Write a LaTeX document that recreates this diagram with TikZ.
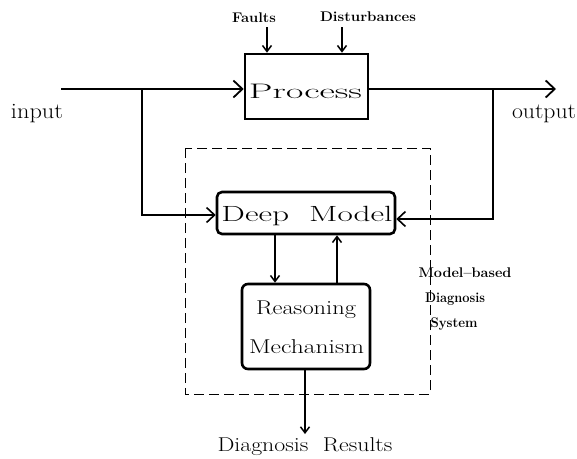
\documentclass[tikz,border=0pt]{standalone}
\usetikzlibrary{arrows.meta}
% stretch a label to a given width, keeping its height
\newcommand{\fitw}[2]{\resizebox{#1}{\height}{#2}}
\newcommand{\fs}[1]{\fontsize{#1}{#1}\selectfont}
\begin{document}
\begin{tikzpicture}[x=1pt,y=-1pt,
  thickbox/.style={draw,line width=2.6pt,inner sep=0pt},
  bigtip/.style={-{Straight Barb[length=9pt,width=17pt,line width=1.8pt]}},
  smalltip/.style={-{Straight Barb[length=6pt,width=9pt,line width=1.5pt]}},
  midtip/.style={-{Straight Barb[length=8pt,width=15pt,line width=1.6pt]}},
  lbl/.style={inner sep=0pt,anchor=center},
]
\useasboundingbox (0,0) rectangle (577,458);

% main blocks
\node[thickbox,minimum width=123pt,minimum height=65pt] (proc) at (306.5,86.5) {};
\node[lbl] (proct) at (305.5,91) {\fs{21}\fitw{113pt}{Process}};
\node[thickbox,rounded corners=5pt,minimum width=178pt,minimum height=42pt] (deep) at (306,213) {};
\node[lbl] (deept) at (307,216) {\fs{22}\fitw{171pt}{Deep\ \ Model}};
\node[thickbox,rounded corners=6pt,minimum width=128pt,minimum height=85pt] (reas) at (306,326.5) {};
\node[lbl] (reas1) at (306,310) {\fs{20}\fitw{100pt}{Reasoning}};
\node[lbl] (reas2) at (306.5,347) {\fs{20}\fitw{115pt}{Mechanism}};

% boundary of the diagnosis system
\draw[line width=0.9pt,dash pattern=on 10pt off 5pt] (185,148) rectangle (430,394);

% texts
\node[lbl] (faults) at (254,18) {\fs{14}\bfseries\fitw{44pt}{Faults}};
\node[lbl] (dist) at (368,17) {\fs{14}\bfseries\fitw{96pt}{Disturbances}};
\node[lbl] (inp) at (37,114) {\fs{22}\fitw{52pt}{input}};
\node[lbl] (outp) at (544,114) {\fs{22}\fitw{64pt}{output}};
\node[lbl] (res) at (305,447) {\fs{20}\fitw{175pt}{Diagnosis\ \ Results}};
\node[lbl] (mb1) at (465,273) {\fs{14}\bfseries\fitw{93pt}{Model--based}};
\node[lbl] (mb2) at (455,299) {\fs{14}\bfseries\fitw{60pt}{Diagnosis}};
\node[lbl] (mb3) at (454,324) {\fs{14}\bfseries\fitw{47pt}{System}};

% free ends
\coordinate (fa) at (267,27);
\coordinate (di) at (342,27);
\coordinate (in) at (61,89);
\coordinate (out) at (556,89);
\coordinate (bl) at (142,89);
\coordinate (br) at (493,89);
\coordinate (rs) at (305,434);

% connectors
\draw[smalltip,line width=1.7pt] (fa) -- (fa |- proc.north);
\draw[smalltip,line width=1.7pt] (di) -- (di |- proc.north);
\draw[bigtip,line width=2.4pt] (in) -- (in -| proc.west);
\draw[bigtip,line width=2.4pt] (out -| proc.east) -- (out);
\draw[midtip,line width=1.3pt] (bl) |- ([yshift=-2pt]deep.west);
\draw[midtip,line width=1.3pt] (br) |- ([yshift=-6pt]deep.east);
\draw[smalltip,line width=1.4pt] (deep.south -| 275,0) -- (reas.north -| 275,0);
\draw[smalltip,line width=1.4pt] (reas.north -| 337,0) -- (deep.south -| 337,0);
\draw[smalltip,line width=1.4pt] (reas.south -| rs) -- (rs);
\end{tikzpicture}
\end{document}
